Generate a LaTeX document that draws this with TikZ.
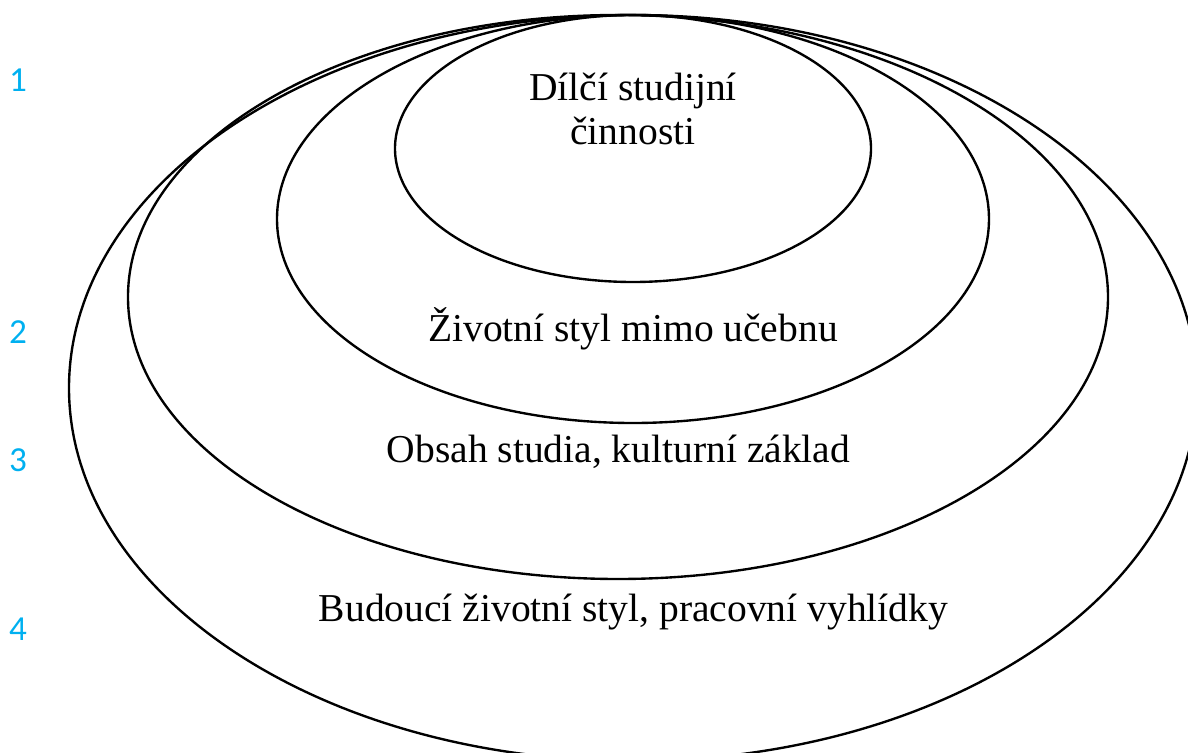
\documentclass[tikz,border=0pt]{standalone}
\usepackage{fontspec}
\setmainfont{Liberation Serif}
\newfontfamily\numfont{Carlito}
\usepackage{tikz}
\usetikzlibrary{positioning}
\definecolor{numblue}{RGB}{0,176,240}

\begin{document}
\begin{tikzpicture}[x=0.02cm, y=-0.02cm,
    ring/.style={draw, line width=1.35pt},
    lbl/.style={anchor=base, inner sep=0pt, font=\fontsize{22.5}{25.5}\selectfont, align=center},
    num/.style={anchor=base, inner sep=0pt, text=numblue, font=\numfont\fontsize{20}{24}\selectfont}]
  \useasboundingbox (0,0) rectangle (1188,753);
  % nested rings, all touching at the top
  \draw[ring] (633,388) ellipse [x radius=564, y radius=373];
  \draw[ring] (618,297) ellipse [x radius=490, y radius=282];
  \draw[ring] (633,219) ellipse [x radius=356, y radius=204];
  \draw[ring] (633,148.5) ellipse [x radius=238, y radius=133.5];
  % ring labels
  \node[lbl] (core) at (633,145) {Dílčí studijní\\činnosti};
  \node[lbl] (life) at (633,342) {Životní styl mimo učebnu};
  \node[lbl] (content) at (618.5,463) {Obsah studia, kulturní základ};
  \node[lbl] (future) at (633.5,622) {Budoucí životní styl, pracovní vyhlídky};
  % level numbers
  \node[num] (n1) at (18,92) {1};
  \node[num] (n2) at (18,344) {2};
  \node[num] (n3) at (18,472) {3};
  \node[num] (n4) at (18,641) {4};
\end{tikzpicture}
\end{document}
